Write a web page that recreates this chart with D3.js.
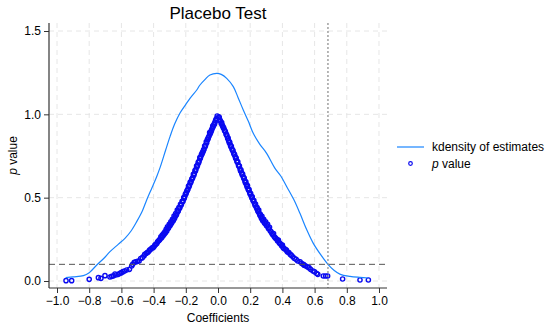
<!DOCTYPE html>
<html>
<head>
<meta charset="utf-8">
<script src="https://cdn.jsdelivr.net/npm/d3@7/dist/d3.min.js"></script>
<style>
  html, body { margin: 0; padding: 0; background: #fff; }
  svg { display: block; font-family: "Liberation Sans", Arial, Helvetica, sans-serif; }
</style>
</head>
<body>
<svg id="chart" width="550" height="328"></svg>
<script>
// ---- data ----
const chartTitle = "Placebo Test";
const xTicks = [-1.0, -0.8, -0.6, -0.4, -0.2, 0.0, 0.2, 0.4, 0.6, 0.8, 1.0];
const yTicks = [0.0, 0.5, 1.0, 1.5];
const trueEstimate = 0.683;   // vertical dotted line
const pThreshold = 0.1;       // horizontal dashed line
const legendLabels = ["kdensity of estimates", "value"];

// kernel density of placebo estimates: [coefficient, density]
const kdensity = [
  [-0.946,0.02],[-0.9,0.025],[-0.836,0.032],[-0.8,0.05],[-0.753,0.096],[-0.71,0.135],
  [-0.671,0.176],[-0.62,0.22],[-0.578,0.256],[-0.54,0.3],[-0.505,0.356],[-0.47,0.42],
  [-0.443,0.486],[-0.41,0.56],[-0.381,0.626],[-0.36,0.68],[-0.325,0.786],[-0.298,0.866],
  [-0.27,0.94],[-0.236,1.008],[-0.2,1.06],[-0.174,1.096],[-0.132,1.146],[-0.112,1.176],
  [-0.08,1.21],[-0.05,1.236],[-0.008,1.246],[0.02,1.24],[0.054,1.216],[0.095,1.166],
  [0.125,1.1],[0.157,1.026],[0.19,0.955],[0.219,0.886],[0.26,0.82],[0.302,0.766],
  [0.354,0.676],[0.39,0.63],[0.427,0.566],[0.47,0.49],[0.509,0.406],[0.55,0.31],
  [0.592,0.226],[0.64,0.155],[0.683,0.1],[0.72,0.065],[0.76,0.04],[0.82,0.028],
  [0.88,0.022],[0.934,0.018]
];

// p values of placebo estimates, left arm: [coefficient, p]
const pLeft = [
  [-0.005,0.99],[-0.008,0.975],[-0.012,0.97],[-0.015,0.962],[-0.02,0.95],[-0.022,0.94],
  [-0.026,0.938],[-0.03,0.925],[-0.033,0.93],[-0.036,0.915],[-0.04,0.905],[-0.043,0.898],
  [-0.046,0.89],[-0.05,0.88],[-0.052,0.89],[-0.056,0.868],[-0.06,0.86],[-0.063,0.85],
  [-0.066,0.848],[-0.07,0.83],[-0.073,0.835],[-0.077,0.815],[-0.08,0.805],[-0.083,0.81],
  [-0.087,0.79],[-0.09,0.785],[-0.093,0.775],[-0.097,0.77],[-0.1,0.76],[-0.103,0.758],
  [-0.107,0.745],[-0.11,0.735],[-0.113,0.74],[-0.117,0.72],[-0.12,0.71],[-0.123,0.712],
  [-0.127,0.695],[-0.13,0.685],[-0.133,0.69],[-0.137,0.67],[-0.14,0.66],[-0.143,0.662],
  [-0.147,0.645],[-0.15,0.635],[-0.153,0.64],[-0.157,0.62],[-0.16,0.615],[-0.163,0.61],
  [-0.167,0.598],[-0.17,0.59],[-0.173,0.592],[-0.177,0.575],[-0.18,0.565],[-0.183,0.57],
  [-0.187,0.55],[-0.19,0.545],[-0.193,0.54],[-0.197,0.53],[-0.2,0.52],[-0.203,0.52],
  [-0.207,0.505],[-0.21,0.495],[-0.213,0.5],[-0.217,0.48],[-0.22,0.475],[-0.223,0.478],
  [-0.227,0.46],[-0.23,0.455],[-0.233,0.46],[-0.237,0.44],[-0.24,0.435],[-0.243,0.44],
  [-0.247,0.42],[-0.25,0.415],[-0.253,0.425],[-0.257,0.4],[-0.26,0.395],[-0.263,0.405],
  [-0.267,0.385],[-0.27,0.375],[-0.273,0.39],[-0.277,0.365],[-0.28,0.36],[-0.283,0.37],
  [-0.287,0.35],[-0.29,0.345],[-0.293,0.355],[-0.297,0.335],[-0.3,0.33],[-0.303,0.34],
  [-0.307,0.32],[-0.31,0.315],[-0.314,0.325],[-0.318,0.3],[-0.322,0.31],[-0.326,0.29],
  [-0.33,0.295],[-0.334,0.28],[-0.338,0.285],[-0.342,0.27],[-0.346,0.275],[-0.35,0.26],
  [-0.355,0.265],[-0.36,0.25],[-0.365,0.245],[-0.37,0.24],[-0.375,0.235],[-0.38,0.225],
  [-0.386,0.22],[-0.392,0.215],[-0.398,0.205],[-0.404,0.2],[-0.41,0.198],[-0.418,0.19],
  [-0.425,0.185],[-0.432,0.175],[-0.44,0.17],[-0.446,0.165],[-0.455,0.16],[-0.46,0.15],
  [-0.47,0.14],[-0.48,0.135],[-0.49,0.12],[-0.5,0.118],[-0.51,0.115],[-0.52,0.112],
  [-0.53,0.1],[-0.536,0.09],[-0.55,0.07],[-0.567,0.066],[-0.58,0.06],[-0.59,0.056],
  [-0.6,0.05],[-0.609,0.046],[-0.62,0.04],[-0.634,0.036],[-0.64,0.042],[-0.65,0.03],
  [-0.66,0.028],[-0.671,0.024],[-0.702,0.032],[-0.727,0.016],[-0.743,0.02],[-0.8,0.01],
  [-0.909,0.002],[-0.944,0.002]
];

// p values of placebo estimates, right arm: [coefficient, p]
const pRight = [
  [0.005,0.985],[0.008,0.98],[0.012,0.965],[0.015,0.96],[0.02,0.945],[0.023,0.95],
  [0.026,0.935],[0.03,0.928],[0.033,0.92],[0.036,0.918],[0.04,0.905],[0.043,0.9],
  [0.046,0.895],[0.05,0.88],[0.053,0.878],[0.056,0.87],[0.06,0.855],[0.063,0.858],
  [0.066,0.842],[0.07,0.83],[0.073,0.832],[0.077,0.815],[0.08,0.805],[0.083,0.808],
  [0.087,0.792],[0.09,0.785],[0.093,0.782],[0.097,0.768],[0.1,0.76],[0.103,0.758],
  [0.107,0.745],[0.11,0.735],[0.113,0.738],[0.117,0.72],[0.12,0.712],[0.123,0.715],
  [0.127,0.695],[0.13,0.688],[0.133,0.69],[0.137,0.672],[0.14,0.66],[0.143,0.665],
  [0.147,0.648],[0.15,0.638],[0.153,0.642],[0.157,0.625],[0.16,0.615],[0.163,0.618],
  [0.167,0.6],[0.17,0.59],[0.173,0.595],[0.177,0.578],[0.18,0.565],[0.183,0.572],
  [0.187,0.552],[0.19,0.545],[0.193,0.548],[0.197,0.53],[0.2,0.52],[0.203,0.525],
  [0.207,0.508],[0.21,0.498],[0.213,0.505],[0.217,0.485],[0.22,0.478],[0.223,0.482],
  [0.227,0.465],[0.23,0.455],[0.233,0.462],[0.237,0.445],[0.24,0.435],[0.243,0.44],
  [0.247,0.422],[0.25,0.415],[0.253,0.425],[0.257,0.405],[0.26,0.395],[0.263,0.4],
  [0.267,0.385],[0.27,0.375],[0.273,0.388],[0.277,0.365],[0.28,0.36],[0.284,0.37],
  [0.288,0.35],[0.292,0.345],[0.296,0.355],[0.3,0.335],[0.304,0.33],[0.308,0.34],
  [0.312,0.318],[0.316,0.312],[0.32,0.322],[0.325,0.3],[0.33,0.295],[0.335,0.285],
  [0.34,0.278],[0.345,0.285],[0.35,0.265],[0.355,0.26],[0.36,0.255],[0.365,0.25],
  [0.37,0.24],[0.375,0.245],[0.38,0.23],[0.385,0.225],[0.39,0.22],[0.395,0.212],
  [0.4,0.215],[0.405,0.2],[0.41,0.195],[0.418,0.19],[0.425,0.185],[0.43,0.175],
  [0.44,0.17],[0.448,0.16],[0.455,0.155],[0.465,0.145],[0.475,0.135],[0.485,0.13],
  [0.495,0.12],[0.51,0.115],[0.52,0.105],[0.53,0.1],[0.535,0.095],[0.545,0.09],
  [0.555,0.085],[0.565,0.08],[0.575,0.07],[0.59,0.06],[0.6,0.055],[0.613,0.045],
  [0.62,0.04],[0.654,0.03],[0.668,0.03],[0.681,0.03],[0.774,0.012],[0.882,0.006],
  [0.934,0.006]
];

// ---- drawing ----
const svg = d3.select("#chart");
const plot = { left: 49, right: 387, top: 23, bottom: 288 };

const x = d3.scaleLinear().domain([-1.0497, 1.0497]).range([plot.left, plot.right]);
const y = d3.scaleLinear().domain([-0.042, 1.548]).range([plot.bottom, plot.top]);

const lineBlue = "#1a85ff";
const markBlue = "#0a0af0";

// grid
const grid = svg.append("g");
grid.selectAll("line.gx").data(xTicks).join("line")
  .attr("x1", d => x(d)).attr("x2", d => x(d))
  .attr("y1", plot.top).attr("y2", plot.bottom)
  .attr("stroke", "#e6e6e6").attr("stroke-width", 1).attr("stroke-dasharray", "5,4");
grid.selectAll("line.gy").data(yTicks).join("line")
  .attr("x1", plot.left).attr("x2", plot.right)
  .attr("y1", d => y(d)).attr("y2", d => y(d))
  .attr("stroke", "#e6e6e6").attr("stroke-width", 1).attr("stroke-dasharray", "5,4");

// scatter of p values
const pts = pLeft.concat(pRight);
svg.append("g").selectAll("circle").data(pts).join("circle")
  .attr("cx", d => x(d[0])).attr("cy", d => y(d[1]))
  .attr("r", 2.1).attr("fill", "none")
  .attr("stroke", markBlue).attr("stroke-width", 1.4);

// kdensity line
svg.append("path").datum(kdensity)
  .attr("d", d3.line().x(d => x(d[0])).y(d => y(d[1])).curve(d3.curveCatmullRom.alpha(0.5)))
  .attr("fill", "none").attr("stroke", lineBlue).attr("stroke-width", 1.2);

// reference lines
svg.append("line")
  .attr("x1", plot.left).attr("x2", plot.right)
  .attr("y1", y(pThreshold)).attr("y2", y(pThreshold))
  .attr("stroke", "#555").attr("stroke-width", 1).attr("stroke-dasharray", "6,4");
svg.append("line")
  .attr("x1", x(trueEstimate)).attr("x2", x(trueEstimate))
  .attr("y1", plot.top).attr("y2", plot.bottom)
  .attr("stroke", "#888").attr("stroke-width", 1.2).attr("stroke-dasharray", "2,2");

// axes
const xAxis = d3.axisBottom(x).tickValues(xTicks).tickSize(5).tickPadding(3)
  .tickFormat(d => d3.format(".1f")(d).replace("-", "\u2212"));
const gx = svg.append("g").attr("transform", `translate(0,${plot.bottom})`).call(xAxis);
const yAxis = d3.axisLeft(y).tickValues(yTicks).tickSize(5).tickPadding(3)
  .tickFormat(d3.format(".1f"));
const gy = svg.append("g").attr("transform", `translate(${plot.left},0)`).call(yAxis);
[gx, gy].forEach(g => {
  g.select(".domain").attr("stroke", "#333").attr("stroke-width", 1.2);
  g.selectAll(".tick line").attr("stroke", "#333");
  g.selectAll(".tick text").attr("fill", "#000").attr("font-size", 12)
    .attr("font-family", "'Liberation Sans', Arial, sans-serif");
});
gx.select(".domain").attr("d", `M${plot.left},0H${plot.right}`);
gy.select(".domain").attr("d", `M0,${plot.top}V${plot.bottom}`);

// title & labels
svg.append("text").attr("x", (plot.left + plot.right) / 2).attr("y", 19)
  .attr("text-anchor", "middle").attr("font-size", 17).attr("fill", "#000").text(chartTitle);
svg.append("text").attr("x", (plot.left + plot.right) / 2).attr("y", 322)
  .attr("text-anchor", "middle").attr("font-size", 12).attr("fill", "#000").text("Coefficients");
const yl = svg.append("text")
  .attr("transform", `translate(17,${(plot.top + plot.bottom) / 2}) rotate(-90)`)
  .attr("text-anchor", "middle").attr("font-size", 12).attr("fill", "#000");
yl.append("tspan").attr("font-style", "italic").text("p");
yl.append("tspan").text(" value");

// legend
const lg = svg.append("g");
lg.append("line").attr("x1", 397).attr("x2", 424).attr("y1", 147).attr("y2", 147)
  .attr("stroke", lineBlue).attr("stroke-width", 1.2);
lg.append("text").attr("x", 432).attr("y", 151).attr("font-size", 12).attr("fill", "#000")
  .text(legendLabels[0]);
lg.append("circle").attr("cx", 410.5).attr("cy", 163.5).attr("r", 1.8)
  .attr("fill", "none").attr("stroke", markBlue).attr("stroke-width", 1.2);
const lt = lg.append("text").attr("x", 432).attr("y", 168).attr("font-size", 12).attr("fill", "#000");
lt.append("tspan").attr("font-style", "italic").text("p");
lt.append("tspan").text(" " + legendLabels[1]);
</script>
</body>
</html>
